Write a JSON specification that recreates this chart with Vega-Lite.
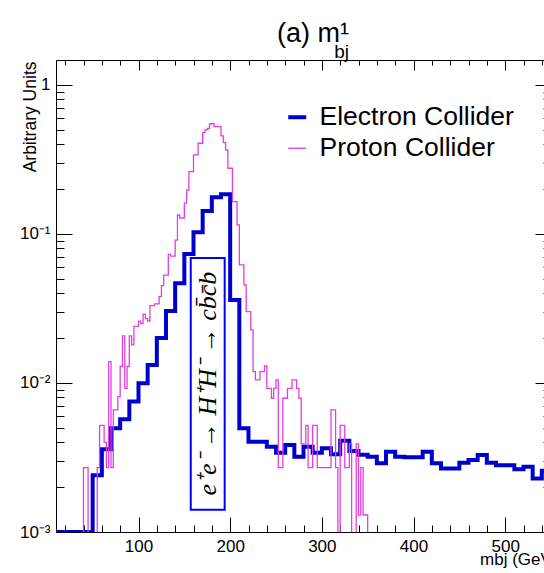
{
  "$schema": "https://vega.github.io/schema/vega-lite/v6.json",
  "width": 495,
  "height": 472,
  "autosize": "none",
  "padding": {"left": 56, "top": 60, "right": 0, "bottom": 41},
  "background": "white",
  "config": {
    "view": {"stroke": null},
    "font": "Liberation Sans",
    "axis": {"grid": false, "domainColor": "#000", "tickColor": "#000", "labelColor": "#000", "labelFont": "Liberation Sans", "labelFontSize": 17, "titleFont": "Liberation Sans", "titleFontWeight": "normal", "titleColor": "#000"}
  },
  "title": {"text": "(a) m¹", "subtitle": "bj", "anchor": "start", "frame": "group", "align": "right", "dx": 293, "fontSize": 27, "fontWeight": "normal", "color": "#000", "font": "Liberation Sans", "subtitleFont": "Liberation Sans", "subtitleFontSize": 19, "subtitleColor": "#000", "subtitlePadding": -5, "offset": -3},
  "datasets": {
    "hist": [
      {"series": "Electron Collider", "x": 10, "y": 0.001},
      {"series": "Electron Collider", "x": 50, "y": 0.0024},
      {"series": "Electron Collider", "x": 60, "y": 0.00359},
      {"series": "Electron Collider", "x": 70, "y": 0.00497},
      {"series": "Electron Collider", "x": 80, "y": 0.0057},
      {"series": "Electron Collider", "x": 90, "y": 0.0075},
      {"series": "Electron Collider", "x": 100, "y": 0.00995},
      {"series": "Electron Collider", "x": 110, "y": 0.0132},
      {"series": "Electron Collider", "x": 120, "y": 0.02},
      {"series": "Electron Collider", "x": 130, "y": 0.0304},
      {"series": "Electron Collider", "x": 140, "y": 0.0467},
      {"series": "Electron Collider", "x": 150, "y": 0.0735},
      {"series": "Electron Collider", "x": 160, "y": 0.1026},
      {"series": "Electron Collider", "x": 170, "y": 0.1426},
      {"series": "Electron Collider", "x": 180, "y": 0.176},
      {"series": "Electron Collider", "x": 190, "y": 0.185},
      {"series": "Electron Collider", "x": 200, "y": 0.036},
      {"series": "Electron Collider", "x": 210, "y": 0.00497},
      {"series": "Electron Collider", "x": 220, "y": 0.00404},
      {"series": "Electron Collider", "x": 230, "y": 0.00404},
      {"series": "Electron Collider", "x": 240, "y": 0.00373},
      {"series": "Electron Collider", "x": 250, "y": 0.0034},
      {"series": "Electron Collider", "x": 260, "y": 0.00384},
      {"series": "Electron Collider", "x": 270, "y": 0.0032},
      {"series": "Electron Collider", "x": 280, "y": 0.00373},
      {"series": "Electron Collider", "x": 290, "y": 0.0034},
      {"series": "Electron Collider", "x": 300, "y": 0.00365},
      {"series": "Electron Collider", "x": 310, "y": 0.00333},
      {"series": "Electron Collider", "x": 320, "y": 0.0041},
      {"series": "Electron Collider", "x": 330, "y": 0.0035},
      {"series": "Electron Collider", "x": 340, "y": 0.0033},
      {"series": "Electron Collider", "x": 350, "y": 0.0032},
      {"series": "Electron Collider", "x": 360, "y": 0.00289},
      {"series": "Electron Collider", "x": 370, "y": 0.00346},
      {"series": "Electron Collider", "x": 380, "y": 0.0032},
      {"series": "Electron Collider", "x": 390, "y": 0.00317},
      {"series": "Electron Collider", "x": 400, "y": 0.00317},
      {"series": "Electron Collider", "x": 410, "y": 0.00346},
      {"series": "Electron Collider", "x": 420, "y": 0.00289},
      {"series": "Electron Collider", "x": 430, "y": 0.00267},
      {"series": "Electron Collider", "x": 440, "y": 0.00267},
      {"series": "Electron Collider", "x": 450, "y": 0.00292},
      {"series": "Electron Collider", "x": 460, "y": 0.00304},
      {"series": "Electron Collider", "x": 470, "y": 0.00329},
      {"series": "Electron Collider", "x": 480, "y": 0.00292},
      {"series": "Electron Collider", "x": 490, "y": 0.0028},
      {"series": "Electron Collider", "x": 500, "y": 0.0028},
      {"series": "Electron Collider", "x": 510, "y": 0.00264},
      {"series": "Electron Collider", "x": 520, "y": 0.00274},
      {"series": "Electron Collider", "x": 530, "y": 0.00229},
      {"series": "Electron Collider", "x": 540, "y": 0.00258},
      {"series": "Electron Collider", "x": 550, "y": 0.00258},
      {"series": "Proton Collider", "x": 10, "y": 0.0005},
      {"series": "Proton Collider", "x": 40, "y": 0.0027},
      {"series": "Proton Collider", "x": 45, "y": 0.0005},
      {"series": "Proton Collider", "x": 55, "y": 0.0027},
      {"series": "Proton Collider", "x": 57.5, "y": 0.0052},
      {"series": "Proton Collider", "x": 62.5, "y": 0.004},
      {"series": "Proton Collider", "x": 65, "y": 0.0027},
      {"series": "Proton Collider", "x": 67.5, "y": 0.0139},
      {"series": "Proton Collider", "x": 70, "y": 0.0027},
      {"series": "Proton Collider", "x": 72.5, "y": 0.0066},
      {"series": "Proton Collider", "x": 77.5, "y": 0.0081},
      {"series": "Proton Collider", "x": 80, "y": 0.0129},
      {"series": "Proton Collider", "x": 82.5, "y": 0.0207},
      {"series": "Proton Collider", "x": 85, "y": 0.0092},
      {"series": "Proton Collider", "x": 87.5, "y": 0.0129},
      {"series": "Proton Collider", "x": 90, "y": 0.0207},
      {"series": "Proton Collider", "x": 92.5, "y": 0.018},
      {"series": "Proton Collider", "x": 95, "y": 0.024},
      {"series": "Proton Collider", "x": 100, "y": 0.026},
      {"series": "Proton Collider", "x": 102.5, "y": 0.025},
      {"series": "Proton Collider", "x": 105, "y": 0.029},
      {"series": "Proton Collider", "x": 107.5, "y": 0.027},
      {"series": "Proton Collider", "x": 110, "y": 0.026},
      {"series": "Proton Collider", "x": 112.5, "y": 0.033},
      {"series": "Proton Collider", "x": 117.5, "y": 0.034},
      {"series": "Proton Collider", "x": 122.5, "y": 0.038},
      {"series": "Proton Collider", "x": 125, "y": 0.045},
      {"series": "Proton Collider", "x": 127.5, "y": 0.053},
      {"series": "Proton Collider", "x": 132.5, "y": 0.073},
      {"series": "Proton Collider", "x": 135, "y": 0.071},
      {"series": "Proton Collider", "x": 140, "y": 0.091},
      {"series": "Proton Collider", "x": 142.5, "y": 0.134},
      {"series": "Proton Collider", "x": 145, "y": 0.128},
      {"series": "Proton Collider", "x": 150, "y": 0.161},
      {"series": "Proton Collider", "x": 152.5, "y": 0.197},
      {"series": "Proton Collider", "x": 155, "y": 0.262},
      {"series": "Proton Collider", "x": 160, "y": 0.339},
      {"series": "Proton Collider", "x": 165, "y": 0.406},
      {"series": "Proton Collider", "x": 170, "y": 0.479},
      {"series": "Proton Collider", "x": 172.5, "y": 0.499},
      {"series": "Proton Collider", "x": 175, "y": 0.51},
      {"series": "Proton Collider", "x": 177.5, "y": 0.547},
      {"series": "Proton Collider", "x": 180, "y": 0.55},
      {"series": "Proton Collider", "x": 182.5, "y": 0.525},
      {"series": "Proton Collider", "x": 190, "y": 0.455},
      {"series": "Proton Collider", "x": 192.5, "y": 0.41},
      {"series": "Proton Collider", "x": 195, "y": 0.366},
      {"series": "Proton Collider", "x": 197.5, "y": 0.276},
      {"series": "Proton Collider", "x": 202.5, "y": 0.165},
      {"series": "Proton Collider", "x": 207.5, "y": 0.115},
      {"series": "Proton Collider", "x": 210, "y": 0.062},
      {"series": "Proton Collider", "x": 215, "y": 0.0455},
      {"series": "Proton Collider", "x": 217.5, "y": 0.0301},
      {"series": "Proton Collider", "x": 222.5, "y": 0.0227},
      {"series": "Proton Collider", "x": 225, "y": 0.0119},
      {"series": "Proton Collider", "x": 227.5, "y": 0.0105},
      {"series": "Proton Collider", "x": 232.5, "y": 0.0119},
      {"series": "Proton Collider", "x": 237.5, "y": 0.013},
      {"series": "Proton Collider", "x": 240, "y": 0.0092},
      {"series": "Proton Collider", "x": 245, "y": 0.0079},
      {"series": "Proton Collider", "x": 247.5, "y": 0.0092},
      {"series": "Proton Collider", "x": 250, "y": 0.0105},
      {"series": "Proton Collider", "x": 252.5, "y": 0.0027},
      {"series": "Proton Collider", "x": 257.5, "y": 0.0079},
      {"series": "Proton Collider", "x": 262.5, "y": 0.0092},
      {"series": "Proton Collider", "x": 267.5, "y": 0.0105},
      {"series": "Proton Collider", "x": 272.5, "y": 0.0092},
      {"series": "Proton Collider", "x": 275, "y": 0.0079},
      {"series": "Proton Collider", "x": 277.5, "y": 0.0039},
      {"series": "Proton Collider", "x": 282.5, "y": 0.0052},
      {"series": "Proton Collider", "x": 285, "y": 0.0027},
      {"series": "Proton Collider", "x": 290, "y": 0.0052},
      {"series": "Proton Collider", "x": 295, "y": 0.0027},
      {"series": "Proton Collider", "x": 310, "y": 0.0066},
      {"series": "Proton Collider", "x": 315, "y": 0.0027},
      {"series": "Proton Collider", "x": 317.5, "y": 0.0005},
      {"series": "Proton Collider", "x": 320, "y": 0.0052},
      {"series": "Proton Collider", "x": 325, "y": 0.0027},
      {"series": "Proton Collider", "x": 330, "y": 0.0039},
      {"series": "Proton Collider", "x": 332.5, "y": 0.0005},
      {"series": "Proton Collider", "x": 337.5, "y": 0.0039},
      {"series": "Proton Collider", "x": 340, "y": 0.0013},
      {"series": "Proton Collider", "x": 342.5, "y": 0.0027},
      {"series": "Proton Collider", "x": 345, "y": 0.0013},
      {"series": "Proton Collider", "x": 350, "y": 0.0005},
      {"series": "Proton Collider", "x": 550, "y": 0.0005}
    ],
    "box": [
      {"x1": 157, "x2": 194, "y1": 0.00141, "y2": 0.069}
    ],
    "label": [
      {"x": 175.6, "y": 0.0099, "t": "e⁺e⁻ → H⁺H⁻ → cb̄c̄b"}
    ]
  },
  "layer": [
    {
      "data": {"name": "hist"},
      "mark": {"type": "line", "interpolate": "step-after", "clip": true, "strokeJoin": "miter"},
      "encoding": {
        "x": {"field": "x", "type": "quantitative", "scale": {"domain": [10, 550], "nice": false, "zero": false},
          "axis": {"orient": "bottom", "values": [20,40,60,80,100,120,140,160,180,200,220,240,260,280,300,320,340,360,380,400,420,440,460,480,500,520,540],
            "labelExpr": "datum.value % 100 === 0 ? datum.label : ''", "labelOverlap": false, "labelFlush": false,
            "tickSize": {"condition": {"test": "datum.value % 100 === 0", "value": -15}, "value": -7},
            "labelPadding": 21, "title": "mbj (GeV)", "titleFontSize": 17, "titleX": 501, "titleY": 32, "titleAlign": "right", "titleBaseline": "alphabetic"}},
        "y": {"field": "y", "type": "quantitative", "scale": {"type": "log", "domain": [0.001, 1.47], "nice": false},
          "axis": {"orient": "left", "values": [0.001,0.002,0.003,0.004,0.005,0.006,0.007,0.008,0.009,0.01,0.02,0.03,0.04,0.05,0.06,0.07,0.08,0.09,0.1,0.2,0.3,0.4,0.5,0.6,0.7,0.8,0.9,1],
            "labelExpr": "datum.value === 1 ? '1' : datum.value === 0.1 ? '10⁻¹' : datum.value === 0.01 ? '10⁻²' : datum.value === 0.001 ? '10⁻³' : ''", "labelOverlap": false, "labelFlush": false,
            "tickSize": {"condition": {"test": "datum.value === 1 || datum.value === 0.1 || datum.value === 0.01 || datum.value === 0.001", "value": -16}, "value": -8},
            "labelPadding": 22, "title": "Arbitrary Units", "titleFontSize": 17.5, "titleX": -26, "titleY": 1, "titleAngle": 270, "titleAlign": "right", "titleBaseline": "middle"}},
        "color": {"field": "series", "type": "nominal", "scale": {"domain": ["Electron Collider", "Proton Collider"], "range": ["#0000cc", "#e040e0"]},
          "legend": {"orient": "none", "legendX": 228, "legendY": 44, "title": null, "labelFontSize": 26.5, "labelFont": "Liberation Sans", "labelColor": "#000", "labelLimit": 400, "symbolType": "stroke", "symbolSize": 324, "rowPadding": 4, "labelOffset": 9}},
        "strokeWidth": {"field": "series", "type": "nominal", "scale": {"domain": ["Electron Collider", "Proton Collider"], "range": [4, 1.3]},
          "legend": {"orient": "none", "legendX": 228, "legendY": 44, "title": null, "labelFontSize": 26.5, "labelFont": "Liberation Sans", "labelColor": "#000", "labelLimit": 400, "symbolType": "stroke", "symbolSize": 324, "rowPadding": 4, "labelOffset": 9}}
      }
    },
    {
      "data": {"name": "box"},
      "mark": {"type": "rect", "fill": "white", "stroke": "#0000ff", "strokeWidth": 2},
      "encoding": {
        "x": {"field": "x1", "type": "quantitative",
          "axis": {"orient": "top", "values": [20,40,60,80,100,120,140,160,180,200,220,240,260,280,300,320,340,360,380,400,420,440,460,480,500,520,540], "labels": false, "title": null,
            "tickSize": {"condition": {"test": "datum.value % 100 === 0", "value": -10}, "value": -5}}},
        "x2": {"field": "x2"},
        "y": {"field": "y1", "type": "quantitative",
          "axis": {"orient": "right", "values": [0.001,0.002,0.003,0.004,0.005,0.006,0.007,0.008,0.009,0.01,0.02,0.03,0.04,0.05,0.06,0.07,0.08,0.09,0.1,0.2,0.3,0.4,0.5,0.6,0.7,0.8,0.9,1], "labels": false, "title": null,
            "tickSize": {"condition": {"test": "datum.value === 1 || datum.value === 0.1 || datum.value === 0.01 || datum.value === 0.001", "value": -16}, "value": -8}}},
        "y2": {"field": "y2"}
      }
    },
    {
      "data": {"name": "label"},
      "mark": {"type": "text", "angle": 270, "font": "Liberation Serif", "fontStyle": "italic", "fontSize": 26, "color": "#000", "align": "center", "baseline": "middle"},
      "encoding": {
        "x": {"field": "x", "type": "quantitative", "axis": null},
        "y": {"field": "y", "type": "quantitative", "axis": null},
        "text": {"field": "t"}
      }
    }
  ],
  "resolve": {"axis": {"x": "independent", "y": "independent"}}
}
